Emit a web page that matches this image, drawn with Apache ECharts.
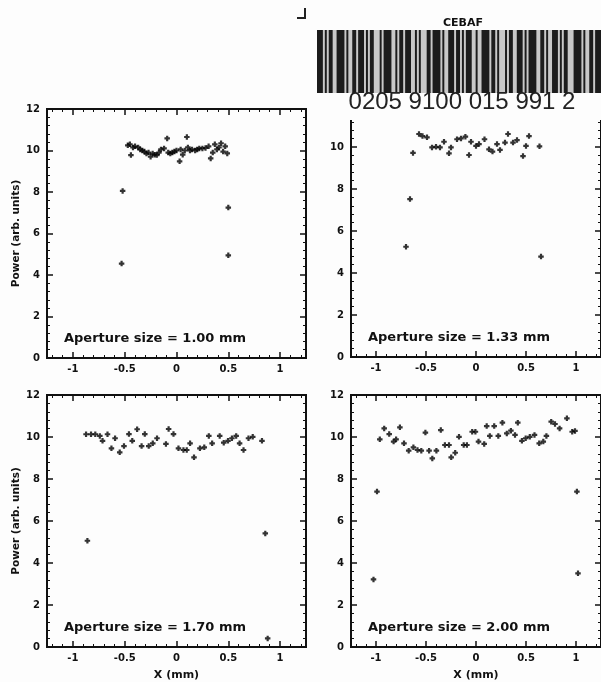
<!DOCTYPE html>
<html><head><meta charset="utf-8">
<script src="https://cdn.jsdelivr.net/npm/echarts@6/dist/echarts.min.js"></script>
<style>html,body{margin:0;padding:0;background:#fdfdfd}#c{width:601px;height:682px}</style>
</head><body><div id="c"></div><script>
// ---------------- data ----------------
const xMajorTicks = [-1, -0.5, 0, 0.5, 1];
const yTickInterval = 2;
const apertureLabels = ['Aperture size = 1.00 mm', 'Aperture size = 1.33 mm', 'Aperture size = 1.70 mm', 'Aperture size = 2.00 mm'];
const yAxisTitle = 'Power (arb. units)';
const xAxisTitle = 'X (mm)';
const barcodeTitle = 'CEBAF';
const barcodeNumber = '0205 9100 015 991 2';

const p1 = [[-0.52,8.05],[-0.53,4.55],[0.5,7.25],[0.5,4.95],
 [-0.47,10.25],[-0.45,10.3],[-0.44,9.78],[-0.42,10.15],[-0.40,10.2],[-0.37,10.15],[-0.35,10.05],[-0.33,10.0],[-0.31,9.95],
 [-0.29,9.85],[-0.27,9.9],[-0.25,9.7],[-0.23,9.85],[-0.21,9.8],[-0.19,9.78],[-0.17,9.9],[-0.15,10.05],[-0.12,10.1],
 [-0.09,10.58],[-0.08,9.9],[-0.06,9.85],[-0.04,9.9],[-0.02,9.95],[0.0,10.0],[0.03,9.48],[0.04,10.05],[0.06,9.8],[0.08,10.0],
 [0.10,10.65],[0.11,10.15],[0.13,10.0],[0.15,10.05],[0.18,10.0],[0.20,10.05],[0.22,10.1],[0.25,10.1],[0.28,10.12],[0.31,10.2],
 [0.33,9.62],[0.35,9.9],[0.37,10.3],[0.39,10.05],[0.41,10.15],[0.43,10.35],[0.45,9.95],[0.47,10.2],[0.49,9.86]];
const p2 = [[-0.70,5.25],[-0.66,7.52],[-0.63,9.72],[0.65,4.78],[0.635,10.03],
 [-0.57,10.62],[-0.535,10.52],[-0.49,10.46],[-0.44,9.98],[-0.40,10.01],[-0.36,9.98],[-0.32,10.25],[-0.27,9.7],[-0.25,9.98],
 [-0.19,10.37],[-0.15,10.41],[-0.106,10.49],[-0.07,9.62],[-0.05,10.25],[0.0,10.05],[0.03,10.14],[0.085,10.37],[0.13,9.89],
 [0.165,9.78],[0.21,10.14],[0.24,9.86],[0.29,10.21],[0.32,10.62],[0.37,10.21],[0.41,10.33],[0.47,9.57],[0.50,10.05],[0.53,10.52]];
const p3 = [[-0.86,5.06],[0.857,5.41],[0.88,0.41],
 [-0.873,10.13],[-0.825,10.13],[-0.784,10.13],[-0.74,10.05],[-0.714,9.82],[-0.666,10.13],[-0.628,9.46],[-0.593,9.94],
 [-0.548,9.27],[-0.507,9.57],[-0.459,10.14],[-0.427,9.82],[-0.38,10.37],[-0.337,9.57],[-0.306,10.14],[-0.268,9.57],
 [-0.229,9.7],[-0.188,9.94],[-0.102,9.67],[-0.076,10.38],[-0.029,10.14],[0.019,9.46],[0.067,9.38],[0.099,9.38],[0.131,9.7],
 [0.169,9.03],[0.226,9.46],[0.268,9.51],[0.312,10.05],[0.344,9.7],[0.417,10.05],[0.456,9.73],[0.497,9.82],[0.535,9.94],
 [0.576,10.05],[0.609,9.7],[0.647,9.38],[0.695,9.94],[0.736,10.01],[0.825,9.82]];
const p4 = [[-1.025,3.22],[-0.99,7.40],[1.02,3.51],[1.009,7.40],
 [-0.962,9.89],[-0.918,10.41],[-0.868,10.14],[-0.824,9.78],[-0.799,9.89],[-0.761,10.46],[-0.72,9.7],[-0.673,9.35],
 [-0.626,9.51],[-0.585,9.38],[-0.547,9.35],[-0.506,10.21],[-0.469,9.35],[-0.437,8.98],[-0.396,9.35],[-0.352,10.33],
 [-0.311,9.62],[-0.27,9.62],[-0.248,9.03],[-0.208,9.25],[-0.17,10.01],[-0.123,9.62],[-0.091,9.62],[-0.038,10.25],
 [-0.006,10.25],[0.025,9.78],[0.082,9.67],[0.107,10.52],[0.138,10.05],[0.182,10.52],[0.223,10.05],[0.264,10.68],
 [0.308,10.17],[0.349,10.3],[0.39,10.1],[0.418,10.68],[0.459,9.82],[0.497,9.94],[0.538,10.01],[0.585,10.1],[0.632,9.7],
 [0.673,9.78],[0.704,10.05],[0.752,10.73],[0.79,10.62],[0.836,10.41],[0.909,10.89],[0.962,10.25],[0.99,10.29]];
const panels = [p1, p2, p3, p4];
// barcode bar/space widths (alternating bar, space)
const barcodeWidths = [3,1,1,1,2,2,4,1,1,2,2,1,3,1,1,1,2,3,1,1,4,2,1,1,2,1,3,2,1,1,1,3,2,1,4,1,1,2,3,1,
 2,1,1,1,3,2,1,2,4,1,2,1,1,3,1,1,2,2,3,1,1,1,4,2,2,1,1,2,3,1,1,1,2,3,4,1,1,2,2,1,3];

// ---------------- layout ----------------
const gridBoxes = [
  {left: 47, top: 109, width: 259, height: 249},
  {left: 351, top: 105, width: 260, height: 252},
  {left: 47, top: 395, width: 259, height: 252},
  {left: 351, top: 395, width: 260, height: 252}
];
const FONT = 'DejaVu Sans';
const xMinorTicks = [];
for (let i = -12; i <= 12; i++) { if (i % 5 !== 0) xMinorTicks.push(i / 10); }

const grids = [], xAxes = [], yAxes = [], series = [];
gridBoxes.forEach((g, i) => {
  grids.push(Object.assign({show: true, borderColor: '#111', borderWidth: 2, backgroundColor: 'transparent'}, g));
  const base = {gridIndex: i, type: 'value', min: -1.25, max: 1.25, splitLine: {show: false}, axisLine: {show: false, onZero: false}};
  const bottomLabel = i >= 2;
  xAxes.push(Object.assign({}, base, {position: 'bottom',
    axisTick: {show: true, inside: true, length: 6, lineStyle: {color: '#111', width: 1.5}, customValues: xMajorTicks},
    axisLabel: {show: true, customValues: xMajorTicks, margin: 6, color: '#111', fontFamily: FONT, fontWeight: 'bold', fontSize: 10},
    name: bottomLabel ? xAxisTitle : '', nameLocation: 'middle', nameGap: 23,
    nameTextStyle: {color: '#111', fontFamily: FONT, fontWeight: 'bold', fontSize: 11}}));
  xAxes.push(Object.assign({}, base, {position: 'bottom',
    axisTick: {show: true, inside: true, length: 3, lineStyle: {color: '#111', width: 1}, customValues: xMinorTicks},
    axisLabel: {show: false}}));
  xAxes.push(Object.assign({}, base, {position: 'top',
    axisTick: {show: true, inside: true, length: 6, lineStyle: {color: '#111', width: 1.5}, customValues: xMajorTicks},
    axisLabel: {show: false}}));
  xAxes.push(Object.assign({}, base, {position: 'top',
    axisTick: {show: true, inside: true, length: 3, lineStyle: {color: '#111', width: 1}, customValues: xMinorTicks},
    axisLabel: {show: false}}));
  const ybase = {gridIndex: i, type: 'value', min: 0, max: 12, interval: yTickInterval, splitLine: {show: false},
    axisLine: {show: false, onZero: false}, minorTick: {show: true, splitNumber: 5, length: 3, lineStyle: {color: '#111', width: 1}},
    axisTick: {show: true, inside: true, length: 6, lineStyle: {color: '#111', width: 1.5}}};
  yAxes.push(Object.assign({}, ybase, {position: 'left',
    axisLabel: {show: true, margin: 7, color: '#111', fontFamily: FONT, fontWeight: 'bold', fontSize: 10},
    name: (i % 2 === 0) ? yAxisTitle : '', nameLocation: 'middle', nameGap: 23, nameRotate: 90,
    nameTextStyle: {color: '#111', fontFamily: FONT, fontWeight: 'bold', fontSize: 10.5}}));
  yAxes.push(Object.assign({}, ybase, {position: 'right', axisLabel: {show: false}}));
  series.push({type: 'scatter', xAxisIndex: i * 4, yAxisIndex: i * 2, data: panels[i],
    symbol: 'path://M3,0h4v3h3v4h-3v3h-4v-3h-3v-4h3z', symbolSize: 5.5,
    itemStyle: {color: '#000'}, silent: true, animation: false});
});

// ---------------- graphics (labels, sticker) ----------------
const graphic = [];
gridBoxes.forEach((g, i) => {
  graphic.push({type: 'text', left: g.left + 17, top: g.top + g.height - 26, z: 50,
    style: {text: apertureLabels[i], fill: '#111', font: 'bold 13px "' + FONT + '"'}});
});
// sticker
const Z = 200;
const stickerChildren = [{type: 'rect', z: Z, shape: {x: 0, y: 0, width: 300, height: 120}, style: {fill: '#fdfdfd'}}];
let total = barcodeWidths.reduce((a, b) => a + b, 0);
const bcX0 = 5, bcW = 284, scale = bcW / total;
stickerChildren.push({type: 'rect', z: Z + 1, shape: {x: bcX0, y: 30, width: bcW, height: 63}, style: {fill: '#c8c8c8'}});
let cx = bcX0;
barcodeWidths.forEach((w, k) => {
  if (k % 2 === 0) stickerChildren.push({type: 'rect', z: Z + 2, shape: {x: cx, y: 30, width: w * scale, height: 63}, style: {fill: '#1c1c1c'}});
  cx += w * scale;
});
stickerChildren.push({type: 'text', z: Z + 3, x: 151, y: 23, style: {text: barcodeTitle, fill: '#111', font: 'bold 11px "' + FONT + '"', textAlign: 'center', textVerticalAlign: 'middle'}});
stickerChildren.push({type: 'text', z: Z + 3, x: 150, y: 102, style: {text: barcodeNumber, fill: '#222', font: '24px "Liberation Sans"', textAlign: 'center', textVerticalAlign: 'middle'}});
graphic.push({type: 'group', x: 312, y: 0, z: Z, children: stickerChildren});
graphic.push({type: 'polyline', z: Z, shape: {points: [[297, 18], [305, 18], [305, 8]]}, style: {stroke: '#222', lineWidth: 2, fill: null}});

const chart = echarts.init(document.getElementById('c'), null, {renderer: 'canvas'});
chart.setOption({backgroundColor: '#fdfdfd', animation: false, grid: grids, xAxis: xAxes, yAxis: yAxes, series, graphic});
</script></body></html>
